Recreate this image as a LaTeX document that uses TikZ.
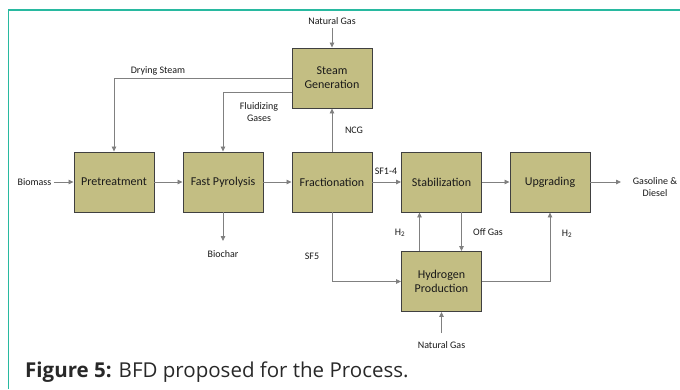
\documentclass[tikz,border=0pt]{standalone}
\usepackage{fontspec}
\setmainfont{Carlito}
\newfontfamily\capfont{Open Sans}
\usetikzlibrary{arrows.meta}
\definecolor{boxfill}{RGB}{195,190,131}
\definecolor{boxedge}{RGB}{64,64,64}
\definecolor{flowgray}{RGB}{128,128,128}
\definecolor{framecol}{RGB}{40,185,160}
\definecolor{captxt}{RGB}{40,40,40}
\tikzset{
  unit/.style={draw=boxedge, line width=0.9pt, fill=boxfill, minimum width=80pt, minimum height=60pt, inner sep=0pt, align=center, font=\fontsize{12}{14}\selectfont, text=black!90},
  flow/.style={draw=flowgray, line width=0.8pt, -{Triangle[length=5pt,width=4.5pt]}},
  lbl/.style={font=\fontsize{10}{12}\selectfont, text=black!90, inner sep=0pt, align=center}
}
\begin{document}
\begin{tikzpicture}[x=1pt,y=-1pt]
\useasboundingbox (0,0) rectangle (680,389);
\draw[framecol, line width=1.6pt] (8.5,389) -- (8.5,10) -- (680,10);
% units
\node[unit] (pre)  at (114,182) {Pretreatment};
\node[unit] (fp)   at (223,182) {Fast Pyrolysis};
\node[unit] (frac) at (332,182) {Fractionation};
\node[unit] (sg)   at (332,78)  {Steam\\Generation};
\node[unit] (stab) at (441.5,182) {Stabilization};
\node[unit] (upg)  at (550,182) {Upgrading};
\node[unit] (hp)   at (441.5,281.5) {Hydrogen\\Production};
% labels
\node[lbl] (bio) at (34.5,182) {Biomass};
\node[lbl] (ng1) at (332,21) {Natural Gas};
\node[lbl] (ds) at (158,71) {Drying Steam};
\node[lbl] (flg) at (259,112) {Fluidizing\\Gases};
\node[lbl] (ncg) at (354,130) {NCG};
\node[lbl] (sf14) at (386,171) {SF1-4};
\node[lbl] (gd) at (655,187) {Gasoline \&\\Diesel};
\node[lbl] (bc) at (223,254) {Biochar};
\node[lbl] (sf5) at (312,256) {SF5};
\node[lbl] (h2a) at (400,233) {H\textsubscript{2}};
\node[lbl] (og) at (488,232) {Off Gas};
\node[lbl] (h2b) at (567,234) {H\textsubscript{2}};
\node[lbl] (ng2) at (441.5,345) {Natural Gas};
\coordinate (gdin) at (621,182);
\coordinate (bcend) at (223,241);
\coordinate (ng1out) at (332,28);
\coordinate (ng2out) at (441.5,333);
% flows
\draw[flow] ([xshift=2pt]bio.east) -- (pre.west);
\draw[flow] (pre.east) -- (fp.west);
\draw[flow] (fp.east) -- (frac.west);
\draw[flow] (frac.east) -- (stab.west);
\draw[flow] (stab.east) -- (upg.west);
\draw[flow] (upg.east) -- (gdin);
\draw[flow] (ng1out) -- (sg.north);
\draw[flow] (sg.west) -| (pre.north);
\draw[flow] ([yshift=-14pt]sg.west) -| (fp.north);
\draw[flow] (frac.north) -- (sg.south);
\draw[flow] (fp.south) -- (bcend);
\draw[flow] (frac.south) |- (hp.west);
\draw[flow] ([xshift=-22pt]hp.north) -- ([xshift=-22pt]stab.south);
\draw[flow] ([xshift=20pt]stab.south) -- ([xshift=20pt]hp.north);
\draw[flow] (hp.east) -| (upg.south);
\draw[flow] (ng2out) -- (hp.south);
% caption
\node[anchor=base west, inner sep=0pt, text=captxt, font=\capfont\fontsize{20.5}{24}\selectfont] (cap) at (25,377) {\textbf{Figure 5:} BFD proposed for the Process.};
\end{tikzpicture}
\end{document}
